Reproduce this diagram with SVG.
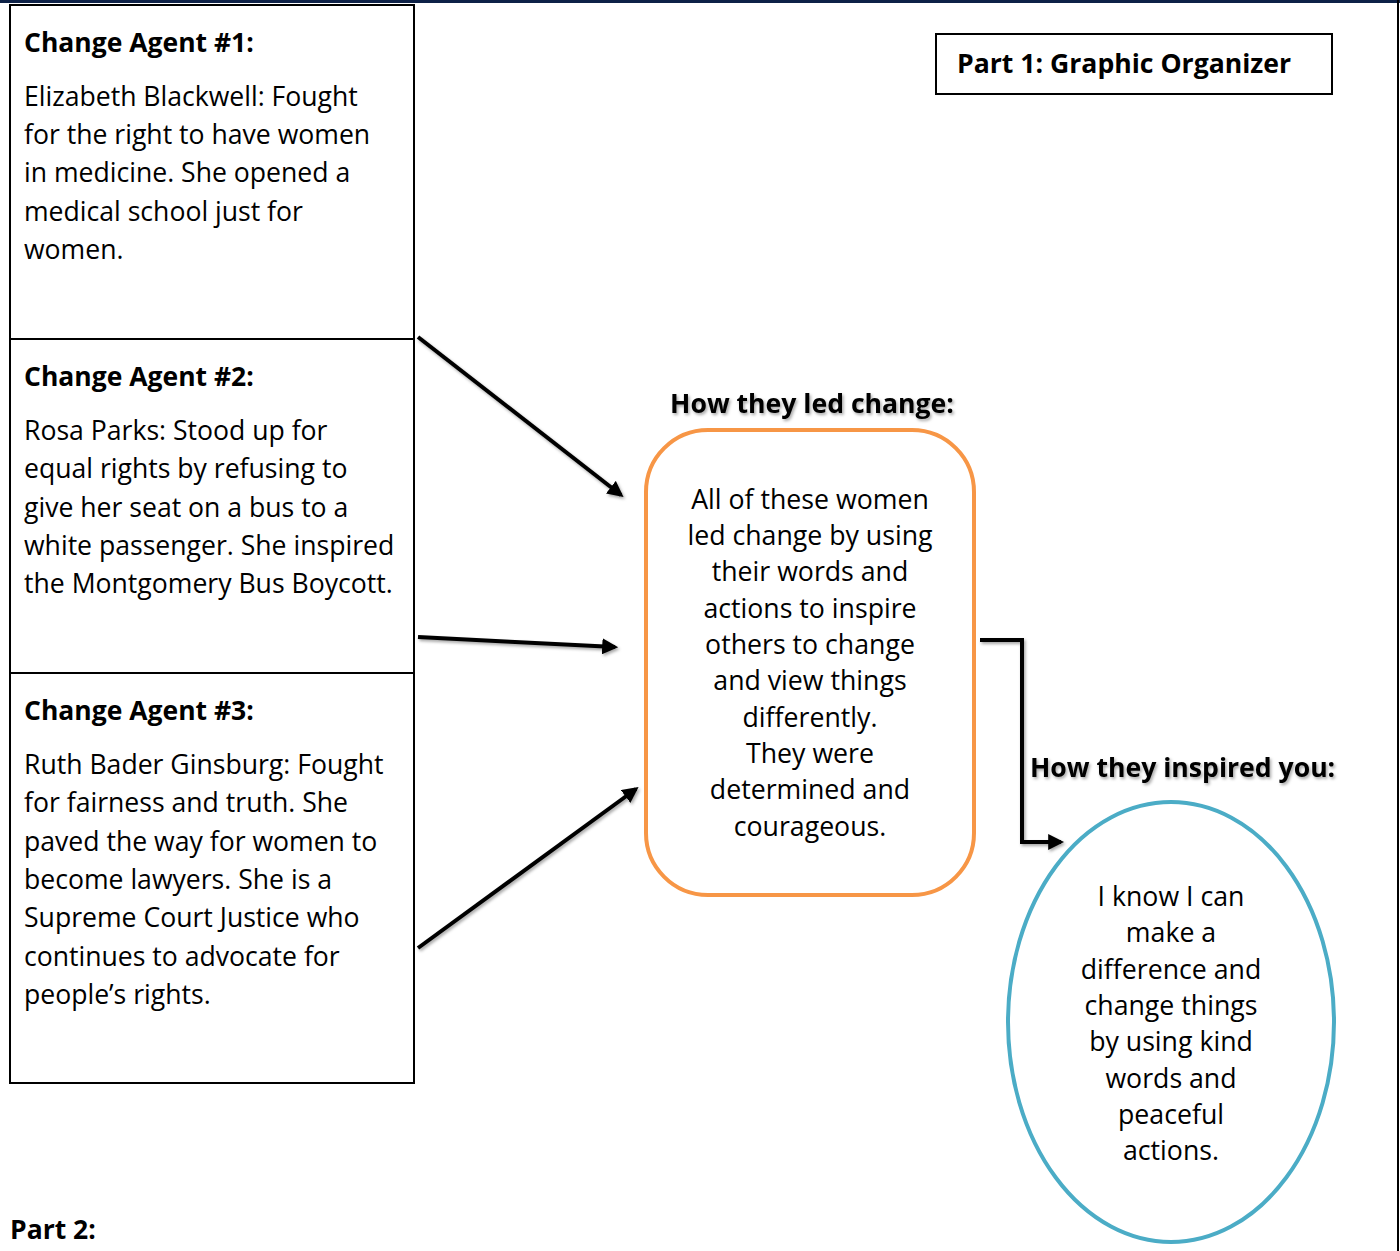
<svg xmlns="http://www.w3.org/2000/svg" width="1400" height="1251" viewBox="0 0 1400 1251">
<style>
text{font-family:"Open Sans","Liberation Sans",sans-serif;fill:#000}
.h{font-weight:bold;font-size:26.5px}
.b{font-size:26.6px}
.c{font-size:26.7px;text-anchor:middle}
.box{fill:#fff;stroke:#000;stroke-width:2}
.con{stroke:#000;stroke-width:4;fill:none}
.lab{font-weight:bold;font-size:26.6px}
</style>
<defs>
<marker id="ah" viewBox="0 0 10 10" refX="8" refY="5" markerWidth="4" markerHeight="4" orient="auto" markerUnits="strokeWidth">
<path d="M0,0 L10,5 L0,10 z" fill="#000"/>
</marker>
<filter id="sh" x="-10%" y="-10%" width="130%" height="130%">
<feDropShadow dx="1.5" dy="2" stdDeviation="1.5" flood-color="#000" flood-opacity="0.35"/>
</filter>
</defs>
<rect x="0" y="0" width="1400" height="1251" fill="#fff"/>
<rect x="0" y="0" width="1400" height="3" fill="#0d2147"/>
<line x1="1398" y1="0" x2="1398" y2="1251" stroke="#000" stroke-width="2"/>

<g id="agent1">
<rect class="box" x="10" y="5" width="404" height="334"/>
<text class="h" x="24" y="52">Change Agent #1:</text>
<text class="b" x="24"><tspan x="24" y="106">Elizabeth Blackwell: Fought</tspan><tspan x="24" y="144">for the right to have women</tspan><tspan x="24" y="182">in medicine. She opened a</tspan><tspan x="24" y="221">medical school just for</tspan><tspan x="24" y="259">women.</tspan></text>
</g>
<g id="agent2">
<rect class="box" x="10" y="339" width="404" height="334"/>
<text class="h" x="24" y="386">Change Agent #2:</text>
<text class="b"><tspan x="24" y="440">Rosa Parks: Stood up for</tspan><tspan x="24" y="478">equal rights by refusing to</tspan><tspan x="24" y="517">give her seat on a bus to a</tspan><tspan x="24" y="555">white passenger. She inspired</tspan><tspan x="24" y="593">the Montgomery Bus Boycott.</tspan></text>
</g>
<g id="agent3">
<rect class="box" x="10" y="673" width="404" height="410"/>
<text class="h" x="24" y="720">Change Agent #3:</text>
<text class="b"><tspan x="24" y="774">Ruth Bader Ginsburg: Fought</tspan><tspan x="24" y="812">for fairness and truth. She</tspan><tspan x="24" y="851">paved the way for women to</tspan><tspan x="24" y="889">become lawyers. She is a</tspan><tspan x="24" y="927">Supreme Court Justice who</tspan><tspan x="24" y="966">continues to advocate for</tspan><tspan x="24" y="1004">people’s rights.</tspan></text>
</g>
<g id="title">
<rect class="box" x="936" y="34" width="396" height="60"/>
<text class="lab" x="957" y="73">Part 1: Graphic Organizer</text>
</g>
<g id="led">
<text class="lab" x="812" y="413" text-anchor="middle" filter="url(#sh)">How they led change:</text>
<rect x="646" y="430" width="328" height="465" rx="62" fill="#fff" stroke="#f79646" stroke-width="4"/>
<text class="c"><tspan x="810" y="509">All of these women</tspan><tspan x="810" y="545">led change by using</tspan><tspan x="810" y="581">their words and</tspan><tspan x="810" y="618">actions to inspire</tspan><tspan x="810" y="654">others to change</tspan><tspan x="810" y="690">and view things</tspan><tspan x="810" y="727">differently.</tspan><tspan x="810" y="763">They were</tspan><tspan x="810" y="799">determined and</tspan><tspan x="810" y="836">courageous.</tspan></text>
</g>
<g id="inspired">
<text class="lab" x="1030" y="777" filter="url(#sh)">How they inspired you:</text>
<ellipse cx="1171" cy="1022" rx="163" ry="220" fill="#fff" stroke="#4bacc6" stroke-width="4"/>
<text class="c"><tspan x="1171" y="906">I know I can</tspan><tspan x="1171" y="942">make a</tspan><tspan x="1171" y="979">difference and</tspan><tspan x="1171" y="1015">change things</tspan><tspan x="1171" y="1051">by using kind</tspan><tspan x="1171" y="1088">words and</tspan><tspan x="1171" y="1124">peaceful</tspan><tspan x="1171" y="1160">actions.</tspan></text>
</g>
<g id="part2">
<text class="h" x="10" y="1239">Part 2:</text>
</g>
<g id="connectors" filter="url(#sh)">
<line class="con" x1="418" y1="337" x2="621" y2="495" marker-end="url(#ah)"/>
<line class="con" x1="418" y1="637" x2="615" y2="647" marker-end="url(#ah)"/>
<line class="con" x1="418" y1="948" x2="636" y2="789" marker-end="url(#ah)"/>
<polyline class="con" points="980,640 1022,640 1022,842 1061,842" marker-end="url(#ah)"/>
</g>
</svg>
